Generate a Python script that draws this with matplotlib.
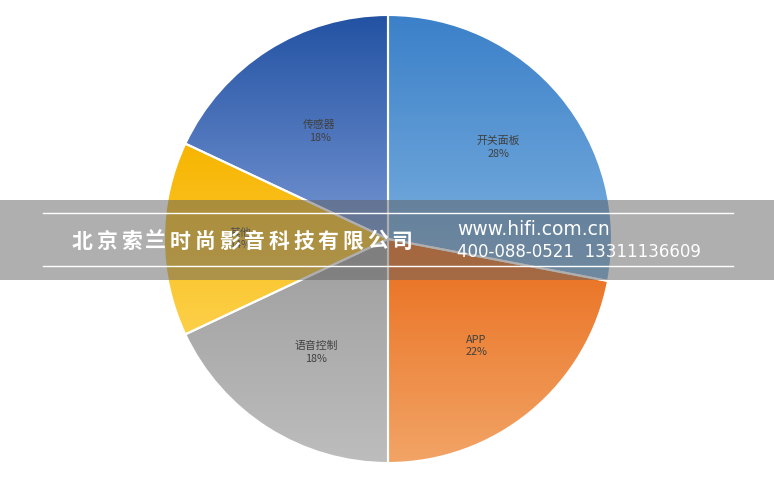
import numpy as np
import matplotlib
matplotlib.use("Agg")
import matplotlib.pyplot as plt
from matplotlib.colors import LinearSegmentedColormap
from matplotlib.patches import Rectangle
from matplotlib.lines import Line2D

plt.rcParams['font.family'] = ['Noto Sans CJK SC', 'DejaVu Sans']

# 数据
names = ['开关面板', 'APP', '语音控制', '其他', '传感器']
shares = [28, 22, 18, 14, 18]
# 标签离圆心的距离 (半径的比例)
label_dist = [0.64, 0.62, 0.6, 0.66, 0.57]
# 每块的渐变色 (上 -> 下)
tops = ['#3b80c9', '#e96d1c', '#9e9e9e', '#f7b500', '#2352a3']
bottoms = ['#80b3e0', '#f2a466', '#bdbdbd', '#fdd04a', '#7595d2']

company = '北京索兰时尚影音科技有限公司'
site = 'www.hifi.com.cn'
phones = '400-088-0521  13311136609'

fig = plt.figure(figsize=(7.74, 4.8), dpi=100)
R_px = 224
cx, cy = 388, 480 - 239
ax = fig.add_axes([(cx - R_px) / 774, (cy - R_px) / 480, 2 * R_px / 774, 2 * R_px / 480])

wedges, texts = ax.pie(shares, startangle=90, counterclock=False, radius=1,
                       wedgeprops=dict(edgecolor='white', linewidth=1.5))
ax.set_xlim(-1, 1)
ax.set_ylim(-1, 1)
ax.set_aspect('equal')
ax.axis('off')

grad = np.linspace(0, 1, 256).reshape(-1, 1)
for w, c0, c1 in zip(wedges, tops, bottoms):
    ext = w.get_path().get_extents()
    cmap = LinearSegmentedColormap.from_list('g', [c0, c1])
    w.set_facecolor('none')
    im = ax.imshow(grad, cmap=cmap, aspect='auto', origin='upper',
                   extent=[ext.x0, ext.x1, ext.y0, ext.y1], zorder=0.5)
    im.set_clip_path(w)

# 数据标签
total = sum(shares)
ang = 90.0
for name, s, d in zip(names, shares, label_dist):
    mid = np.deg2rad(ang - s / total * 180)
    ang -= s / total * 360
    ax.text(d * np.cos(mid), d * np.sin(mid), f'{name}\n{s}%', ha='center', va='center',
            fontsize=7.8, color='#404040', linespacing=1.35, zorder=3)

# 水印
fig.add_artist(Rectangle((0, (480 - 280) / 480), 1, 80 / 480, transform=fig.transFigure,
                         facecolor='#606060', alpha=0.5, edgecolor='none', zorder=5))
for y in (213, 266):
    fig.add_artist(Line2D([43 / 774, 733 / 774], [(480 - y) / 480] * 2, transform=fig.transFigure,
                          color='white', linewidth=1, zorder=6))
for i, ch in enumerate(company):
    fig.text((82 + i * 24.6) / 774, (480 - 241) / 480, ch, color='white',
             fontsize=15, fontweight='heavy', va='center', ha='center', zorder=7)
fig.text(457 / 774, (480 - 230) / 480, site, color='white',
         fontsize=13.5, va='center', ha='left', zorder=7, family='DejaVu Sans')
fig.text(457 / 774, (480 - 252) / 480, phones, color='white',
         fontsize=12, va='center', ha='left', zorder=7, family='DejaVu Sans')

fig.savefig('out.png', dpi=100)
